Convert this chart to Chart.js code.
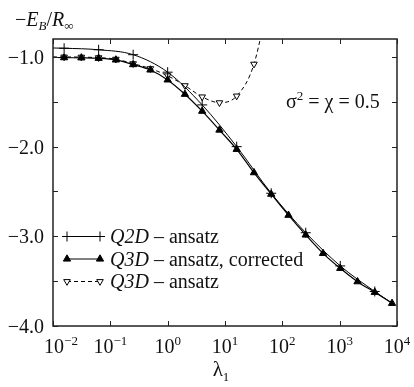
<!DOCTYPE html>
<html><head><meta charset="utf-8">
<script src="https://cdn.jsdelivr.net/npm/chart.js@4.4.1/dist/chart.umd.min.js"></script>
<style>html,body{margin:0;padding:0;background:#fff;overflow:hidden}</style>
</head><body>
<canvas id="c" width="414" height="387"></canvas>
<script>
// ---- data ----
const lambdaQ2D = [0.01, 1/64, 1/16, 1/4, 1, 4, 16, 64, 256, 1024, 4096, 8192];
const energyQ2D = [-0.900, -0.903, -0.920, -0.975, -1.170, -1.535, -2.000, -2.520, -2.960, -3.330, -3.615, -3.745];

const lambdaQ3Dc = [0.01, 1/64, 1/32, 1/16, 1/8, 1/4, 1/2, 1, 2, 4, 8, 16, 32, 64, 128, 256, 512, 1024, 2048, 4096, 8192];
const energyQ3Dc = [-1.005, -1.008, -1.010, -1.015, -1.033, -1.085, -1.145, -1.256, -1.416, -1.605, -1.815, -2.030, -2.290, -2.530, -2.765, -2.985, -3.190, -3.357, -3.506, -3.624, -3.747];

const lambdaQ3Da = [0.01, 1/64, 1/32, 1/16, 1/8, 1/4, 1/2, 1, 2, 4, 8, 16, 32, 64];
const energyQ3Da = [-1.000, -1.000, -1.002, -1.008, -1.025, -1.075, -1.130, -1.210, -1.320, -1.445, -1.510, -1.435, -1.080, -0.200];

const xTickValues = [0.01, 0.1, 1, 10, 100, 1000, 10000];
const xTickExponents = ['−2', '−1', '0', '1', '2', '3', '4'];
const yTickValues = [-4.0, -3.5, -3.0, -2.5, -2.0, -1.5, -1.0];
const yTickLabels = {'-4': '−4.0', '-3': '−3.0', '-2': '−2.0', '-1': '−1.0'};

const legendNames = [['Q2D', ' – ansatz'], ['Q3D', ' – ansatz, corrected'], ['Q3D', ' – ansatz']];
const annotationText = 'σ² = χ = 0.5';

// ---- chart ----
const X_MIN = 0.01, X_MAX = 10000, Y_MIN = -4.0, Y_MAX = -0.8;
const serif = '"Liberation Serif", "Times New Roman", serif';

function pts(xs, ys) { return xs.map((x, i) => ({x: x, y: ys[i]})); }
function markerRadius(r, xs, ys, lo, hi) {
  return xs.map((x, i) => (x >= lo - 1e-9 && x <= hi + 1e-9 && ys[i] <= Y_MAX) ? r : 0);
}

const styleQ2D = {pointStyle: 'cross', radius: 5, borderWidth: 1, color: '#000', fill: '#000', dash: [], rot: 0};
const styleQ3Dc = {pointStyle: 'triangle', radius: 4.2, borderWidth: 1, color: '#000', fill: '#000', dash: [], rot: 0};
const styleQ3Da = {pointStyle: 'triangle', radius: 3.8, borderWidth: 1, color: '#000', fill: '#fff', dash: [4, 3], rot: 180};

const datasets = [
  {
    label: 'Q3D – ansatz', data: pts(lambdaQ3Da, energyQ3Da),
    borderColor: '#000', borderWidth: 1, borderDash: styleQ3Da.dash,
    pointStyle: 'triangle', rotation: 180, pointBackgroundColor: '#fff', pointBorderColor: '#000',
    pointBorderWidth: 1, pointRadius: markerRadius(styleQ3Da.radius, lambdaQ3Da, energyQ3Da, 1/64, 32),
    cubicInterpolationMode: 'monotone', order: 3
  },
  {
    label: 'Q2D – ansatz', data: pts(lambdaQ2D, energyQ2D),
    borderColor: '#000', borderWidth: 1,
    pointStyle: 'cross', pointBorderColor: '#000', pointBorderWidth: 1,
    pointRadius: markerRadius(styleQ2D.radius, lambdaQ2D, energyQ2D, 1/64, 4096),
    cubicInterpolationMode: 'monotone', order: 2
  },
  {
    label: 'Q3D – ansatz, corrected', data: pts(lambdaQ3Dc, energyQ3Dc),
    borderColor: '#000', borderWidth: 1.2,
    pointStyle: 'triangle', pointBackgroundColor: '#000', pointBorderColor: '#000', pointBorderWidth: 1,
    pointRadius: markerRadius(styleQ3Dc.radius, lambdaQ3Dc, energyQ3Dc, 1/64, 8192),
    cubicInterpolationMode: 'monotone', order: 1
  }
];

function drawText(ctx, parts, x, y, align) {
  // parts: [{t, size, italic, dy}]
  let total = 0;
  parts.forEach(p => { ctx.font = (p.italic ? 'italic ' : '') + p.size + 'px ' + serif; p.w = ctx.measureText(p.t).width; total += p.w; });
  let cx = align === 'center' ? x - total / 2 : (align === 'right' ? x - total : x);
  ctx.textAlign = 'left'; ctx.textBaseline = 'alphabetic';
  parts.forEach(p => { ctx.font = (p.italic ? 'italic ' : '') + p.size + 'px ' + serif; ctx.fillText(p.t, cx, y + (p.dy || 0)); cx += p.w; });
}

const decor = {
  id: 'decor',
  afterDraw(chart) {
    const ctx = chart.ctx, a = chart.chartArea;
    const xs = chart.scales.x, ys = chart.scales.y;
    ctx.save();
    ctx.fillStyle = '#111'; ctx.strokeStyle = '#222';
    // frame
    ctx.lineWidth = 1.5;
    ctx.strokeRect(a.left, a.top, a.right - a.left, a.bottom - a.top);
    // ticks (inward, mirrored)
    ctx.lineWidth = 1;
    const tl = 5;
    ctx.beginPath();
    xTickValues.forEach(v => {
      const px = Math.round(xs.getPixelForValue(v)) + 0.5;
      ctx.moveTo(px, a.bottom); ctx.lineTo(px, a.bottom - tl);
      ctx.moveTo(px, a.top); ctx.lineTo(px, a.top + tl);
    });
    yTickValues.forEach(v => {
      const py = Math.round(ys.getPixelForValue(v)) + 0.5;
      ctx.moveTo(a.left, py); ctx.lineTo(a.left + tl, py);
      ctx.moveTo(a.right, py); ctx.lineTo(a.right - tl, py);
    });
    ctx.stroke();
    // y tick labels
    yTickValues.forEach(v => {
      const lab = yTickLabels[String(v)];
      if (!lab) return;
      const py = ys.getPixelForValue(v);
      drawText(ctx, [{t: lab, size: 20}], a.left - 9, py + 7, 'right');
    });
    // x tick labels
    xTickValues.forEach((v, i) => {
      const px = xs.getPixelForValue(v);
      drawText(ctx, [{t: '10', size: 20}, {t: xTickExponents[i], size: 13, dy: -8}], px + (i === 0 ? 8 : 0), a.bottom + 27, 'center');
    });
    // axis titles
    drawText(ctx, [{t: 'λ', size: 21}, {t: '1', size: 13, dy: 5}], (a.left + a.right) / 2 - 4, a.bottom + 50, 'center');
    drawText(ctx, [{t: '−', size: 20}, {t: 'E', size: 20, italic: true}, {t: 'B', size: 13, italic: true, dy: 4},
                   {t: '/', size: 20}, {t: 'R', size: 20, italic: true}, {t: '∞', size: 13, dy: 4}], 15, 26, 'left');
    // annotation
    drawText(ctx, [{t: 'σ', size: 20}, {t: '2', size: 13, dy: -8}, {t: ' = χ = 0.5', size: 20}], 286, 108, 'left');
    // legend
    const rows = [styleQ2D, styleQ3Dc, styleQ3Da];
    const x0 = 67, x1 = 100, tx = 110, ry = [236, 258.5, 281];
    rows.forEach((s, i) => {
      const y = ry[i];
      ctx.save();
      ctx.strokeStyle = '#000'; ctx.lineWidth = 1; ctx.setLineDash(s.dash);
      ctx.beginPath(); ctx.moveTo(x0, y + 0.5); ctx.lineTo(x1, y + 0.5); ctx.stroke();
      ctx.setLineDash([]);
      ctx.fillStyle = s.fill; ctx.strokeStyle = s.color; ctx.lineWidth = s.borderWidth;
      const po = {pointStyle: s.pointStyle, radius: s.radius, rotation: s.rot, borderWidth: s.borderWidth};
      Chart.helpers.drawPoint(ctx, po, x0, y + 0.5);
      Chart.helpers.drawPoint(ctx, po, x1, y + 0.5);
      ctx.restore();
      ctx.fillStyle = '#111';
      drawText(ctx, [{t: legendNames[i][0], size: 20, italic: true}, {t: legendNames[i][1], size: 20}], tx, y + 7, 'left');
    });
    ctx.restore();
  }
};

new Chart(document.getElementById('c'), {
  type: 'line',
  data: {datasets: datasets},
  options: {
    responsive: false, animation: false, devicePixelRatio: 1,
    layout: {padding: {left: 53, right: 17, top: 39, bottom: 61}},
    plugins: {legend: {display: false}, tooltip: {enabled: false}},
    scales: {
      x: {type: 'logarithmic', min: X_MIN, max: X_MAX, display: false},
      y: {type: 'linear', min: Y_MIN, max: Y_MAX, display: false}
    }
  },
  plugins: [decor]
});
</script>
</body></html>
